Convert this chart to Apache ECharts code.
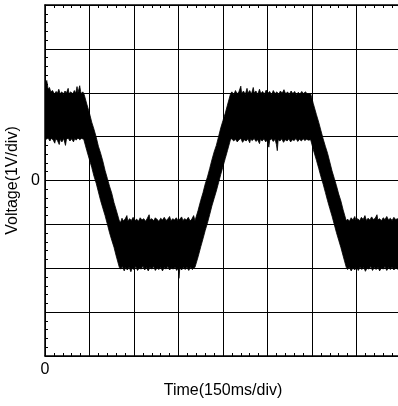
<!DOCTYPE html>
<html>
<head>
<meta charset="utf-8">
<script src="https://cdn.jsdelivr.net/npm/echarts@6/dist/echarts.min.js"></script>
<style>
html,body{margin:0;padding:0;background:#fff;}
#chart{width:398px;height:406px;}
</style>
</head>
<body>
<div id="chart"></div>
<script>
// Axis ranges in divisions (x: 150 ms/div, y: 1 V/div)
var timeRange = [0, 8];
var voltRange = [-4, 4];
var xTickLabels = ['0'];
var yTickLabels = ['0'];
var xAxisTitle = 'Time(150ms/div)';
var yAxisTitle = 'Voltage(1V/div)';

// Upper envelope of the noisy trace [time div, volt div]
var upperEdge = [
  [0,1.70],[0.01,2.22],[0.04,2.28],[0.07,2.08],[0.10,2.12],[0.13,2.02],[0.17,2.05],[0.21,1.97],[0.25,2.03],[0.28,1.99],
  [0.31,2.08],[0.34,1.98],[0.38,2.02],[0.41,1.96],[0.45,2.04],[0.48,1.99],[0.52,2.10],[0.54,1.98],[0.58,2.02],[0.62,1.97],
  [0.66,2.05],[0.69,1.99],[0.72,2.14],[0.74,2.00],[0.78,2.16],[0.80,2.03],[0.82,1.98],[0.85,2.02],[0.88,1.96],
  [0.94,1.74],[1.00,1.53],[1.05,1.33],[1.10,1.17],[1.15,0.99],[1.20,0.78],[1.25,0.62],[1.30,0.44],[1.35,0.23],[1.40,0.05],
  [1.45,-0.13],[1.50,-0.29],[1.55,-0.50],[1.60,-0.67],[1.67,-0.92],
  [1.70,-0.95],[1.73,-0.86],[1.76,-0.92],[1.80,-0.88],[1.84,-0.80],[1.86,-0.93],[1.90,-0.87],[1.94,-0.91],[1.98,-0.84],
  [2.02,-0.92],[2.06,-0.88],[2.10,-0.93],[2.14,-0.85],[2.18,-0.90],[2.22,-0.87],[2.26,-0.93],[2.30,-0.86],[2.34,-0.78],
  [2.36,-0.90],[2.40,-0.87],[2.44,-0.92],[2.48,-0.85],[2.52,-0.89],[2.56,-0.93],[2.60,-0.86],[2.64,-0.90],[2.68,-0.84],
  [2.72,-0.91],[2.76,-0.88],[2.80,-0.82],[2.83,-0.92],[2.87,-0.87],[2.91,-0.90],[2.95,-0.85],[2.99,-0.92],[3.03,-0.88],
  [3.07,-0.83],[3.10,-0.91],[3.14,-0.87],[3.18,-0.90],[3.22,-0.84],[3.26,-0.92],[3.30,-0.88],[3.34,-0.80],[3.37,-0.92],
  [3.44,-0.68],[3.50,-0.45],[3.55,-0.28],[3.60,-0.08],[3.65,0.08],[3.70,0.27],[3.75,0.47],[3.80,0.65],[3.85,0.80],
  [3.90,1.00],[3.95,1.20],[4.00,1.37],[4.05,1.53],[4.10,1.72],[4.17,1.98],
  [4.20,2.02],[4.24,1.95],[4.28,2.05],[4.32,1.97],[4.36,2.03],[4.40,2.15],[4.42,1.98],[4.46,2.04],[4.50,1.96],[4.54,2.10],
  [4.56,1.99],[4.60,2.05],[4.64,1.97],[4.68,2.12],[4.70,2.00],[4.74,2.04],[4.78,1.96],[4.82,2.08],[4.85,1.98],[4.89,2.03],
  [4.93,1.96],[4.97,2.06],[5.01,1.99],[5.05,2.03],[5.09,1.95],[5.13,2.05],[5.17,1.98],[5.21,2.02],[5.25,1.96],[5.29,2.04],
  [5.33,1.99],[5.37,2.07],[5.41,1.97],[5.45,2.02],[5.49,1.96],[5.53,2.04],[5.57,1.98],[5.61,2.03],[5.65,1.95],[5.69,2.01],
  [5.73,1.97],[5.77,2.03],[5.81,1.98],[5.85,2.02],[5.90,1.97],[5.97,1.98],
  [6.03,1.75],[6.10,1.50],[6.15,1.33],[6.20,1.14],[6.25,0.95],[6.30,0.78],[6.35,0.62],[6.40,0.42],[6.45,0.22],[6.50,0.05],
  [6.55,-0.12],[6.60,-0.31],[6.65,-0.47],[6.70,-0.67],[6.77,-0.92],
  [6.80,-0.88],[6.84,-0.93],[6.88,-0.85],[6.92,-0.90],[6.96,-0.82],[6.99,-0.91],[7.03,-0.87],[7.07,-0.92],[7.11,-0.84],
  [7.15,-0.89],[7.19,-0.80],[7.22,-0.91],[7.26,-0.86],[7.30,-0.90],[7.34,-0.83],[7.38,-0.89],[7.42,-0.86],[7.46,-0.78],
  [7.48,-0.90],[7.52,-0.87],[7.56,-0.92],[7.60,-0.85],[7.64,-0.89],[7.68,-0.82],[7.72,-0.90],[7.76,-0.86],[7.80,-0.91],
  [7.84,-0.84],[7.88,-0.89],[7.92,-0.87],[8.00,-0.90]
];

// Lower envelope of the noisy trace [time div, volt div]
var lowerEdge = [
  [0,1.00],[0.03,0.94],[0.07,0.97],[0.11,0.90],[0.14,0.96],[0.18,0.93],[0.22,0.85],[0.24,0.95],[0.28,0.91],[0.32,0.82],
  [0.34,0.94],[0.38,0.88],[0.42,0.96],[0.46,0.80],[0.48,0.93],[0.52,0.97],[0.56,0.90],[0.60,0.95],[0.64,0.88],[0.67,0.96],
  [0.70,0.92],[0.74,0.97],[0.78,0.93],[0.82,0.96],[0.87,0.94],
  [0.94,0.68],[1.00,0.47],[1.05,0.30],[1.10,0.10],[1.15,-0.06],[1.20,-0.26],[1.25,-0.46],[1.30,-0.63],[1.35,-0.80],
  [1.40,-0.99],[1.45,-1.19],[1.50,-1.36],[1.55,-1.52],[1.60,-1.72],[1.67,-1.98],
  [1.70,-2.02],[1.74,-1.96],[1.78,-2.06],[1.81,-1.98],[1.85,-2.04],[1.89,-1.97],[1.93,-2.08],[1.96,-1.99],[2.00,-2.03],
  [2.04,-1.96],[2.08,-2.05],[2.12,-1.99],[2.16,-2.02],[2.20,-1.95],[2.24,-2.04],[2.28,-1.98],[2.32,-2.06],[2.36,-1.97],
  [2.40,-2.02],[2.44,-1.96],[2.48,-2.05],[2.52,-1.99],[2.56,-2.03],[2.60,-1.97],[2.64,-2.06],[2.68,-1.98],[2.72,-2.02],
  [2.76,-1.96],[2.80,-2.04],[2.84,-1.99],[2.88,-2.02],[2.92,-1.97],[2.96,-2.05],[3.00,-1.98],[3.01,-2.23],[3.03,-1.99],
  [3.07,-2.04],[3.11,-1.97],[3.15,-2.03],[3.19,-1.98],[3.23,-2.05],[3.27,-1.97],[3.31,-2.03],[3.35,-1.99],[3.37,-1.98],
  [3.44,-1.74],[3.50,-1.51],[3.55,-1.33],[3.60,-1.14],[3.65,-0.97],[3.70,-0.78],[3.75,-0.58],[3.80,-0.41],[3.85,-0.24],
  [3.90,-0.05],[3.95,0.14],[4.00,0.32],[4.05,0.50],[4.10,0.68],[4.17,0.94],
  [4.20,0.95],[4.24,0.90],[4.28,0.94],[4.32,0.88],[4.36,0.93],[4.40,0.96],[4.44,0.87],[4.48,0.93],[4.52,0.90],[4.56,0.95],
  [4.60,0.86],[4.62,0.94],[4.66,0.91],[4.70,0.96],[4.74,0.89],[4.78,0.93],[4.82,0.84],[4.84,0.94],[4.88,0.90],[4.92,0.95],
  [4.96,0.88],[5.00,0.93],[5.03,0.76],[5.05,0.92],[5.09,0.95],[5.13,0.89],[5.17,0.94],[5.20,0.82],[5.22,0.68],[5.24,0.93],
  [5.28,0.90],[5.32,0.95],[5.36,0.87],[5.40,0.93],[5.44,0.90],[5.48,0.95],[5.52,0.88],[5.56,0.93],[5.60,0.91],[5.64,0.96],
  [5.68,0.89],[5.72,0.94],[5.76,0.90],[5.80,0.95],[5.84,0.91],[5.88,0.94],[5.92,0.92],[5.97,0.93],
  [6.03,0.70],[6.10,0.46],[6.15,0.28],[6.20,0.09],[6.25,-0.08],[6.30,-0.27],[6.35,-0.46],[6.40,-0.64],[6.45,-0.81],
  [6.50,-1.00],[6.55,-1.19],[6.60,-1.36],[6.65,-1.53],[6.70,-1.72],[6.77,-1.98],
  [6.80,-2.03],[6.84,-1.97],[6.88,-2.06],[6.92,-1.99],[6.96,-2.04],[7.00,-1.96],[7.04,-2.05],[7.08,-1.98],[7.12,-2.03],
  [7.16,-1.97],[7.20,-2.07],[7.24,-1.99],[7.28,-2.02],[7.32,-1.96],[7.36,-2.05],[7.40,-1.98],[7.44,-2.03],[7.48,-1.97],
  [7.52,-2.06],[7.56,-1.99],[7.60,-2.02],[7.64,-1.96],[7.68,-2.05],[7.72,-1.98],[7.76,-2.03],[7.80,-1.97],[7.84,-2.04],
  [7.88,-1.99],[7.92,-2.02],[8.00,-1.98]
];

var chart = echarts.init(document.getElementById('chart'), null, {renderer: 'canvas'});
var FONT = '"Liberation Sans", Arial, Helvetica, sans-serif';
var black = '#000';

function onlyLabels(list) {
  return function (v) {
    var s = String(Math.round(v * 1000) / 1000);
    return list.indexOf(s) >= 0 ? s : '';
  };
}

var commonTick = {show: true, inside: true, length: 4, lineStyle: {color: black, width: 1}};
var commonMinor = {show: true, splitNumber: 5, length: 3, lineStyle: {color: black, width: 1}};

var option = {
  animation: false,
  backgroundColor: '#fff',
  grid: {left: 45, right: -3, top: 5, bottom: 50, containLabel: false, outerBoundsMode: 'none'},
  xAxis: [{
    type: 'value', min: timeRange[0], max: timeRange[1], interval: 1,
    position: 'bottom',
    axisLine: {show: true, onZero: false, lineStyle: {color: black, width: 1.5}},
    axisTick: commonTick,
    minorTick: commonMinor,
    splitLine: {show: true, lineStyle: {color: black, width: 1}},
    axisLabel: {formatter: onlyLabels(xTickLabels), fontSize: 16, color: black, fontFamily: FONT, margin: 6},
    name: xAxisTitle, nameLocation: 'middle', nameGap: 26,
    nameTextStyle: {fontSize: 16, color: black, fontFamily: FONT}
  }, {
    type: 'value', min: timeRange[0], max: timeRange[1], interval: 1,
    position: 'top',
    axisLine: {show: true, onZero: false, lineStyle: {color: black, width: 1.5}},
    axisTick: commonTick,
    minorTick: commonMinor,
    splitLine: {show: false},
    axisLabel: {show: false}
  }],
  yAxis: [{
    type: 'value', min: voltRange[0], max: voltRange[1], interval: 1,
    position: 'left',
    axisLine: {show: true, onZero: false, lineStyle: {color: black, width: 1.5}},
    axisTick: commonTick,
    minorTick: commonMinor,
    splitLine: {show: true, lineStyle: {color: black, width: 1}},
    axisLabel: {formatter: onlyLabels(yTickLabels), fontSize: 16, color: black, fontFamily: FONT, margin: 5},
    name: yAxisTitle, nameLocation: 'middle', nameGap: 19,
    nameTextStyle: {fontSize: 16, color: black, fontFamily: FONT}
  }],
  series: [{
    type: 'custom',
    coordinateSystem: 'cartesian2d',
    xAxisIndex: 0, yAxisIndex: 0,
    clip: true,
    data: [[0, 0]],
    renderItem: function (params, api) {
      var pts = [];
      for (var i = 0; i < upperEdge.length; i++) pts.push(api.coord(upperEdge[i]));
      for (var j = lowerEdge.length - 1; j >= 0; j--) pts.push(api.coord(lowerEdge[j]));
      return {
        type: 'polygon',
        shape: {points: pts},
        style: {fill: black, stroke: black, lineWidth: 0.8}
      };
    },
    z: 3
  }]
};
chart.setOption(option);
</script>
</body>
</html>
